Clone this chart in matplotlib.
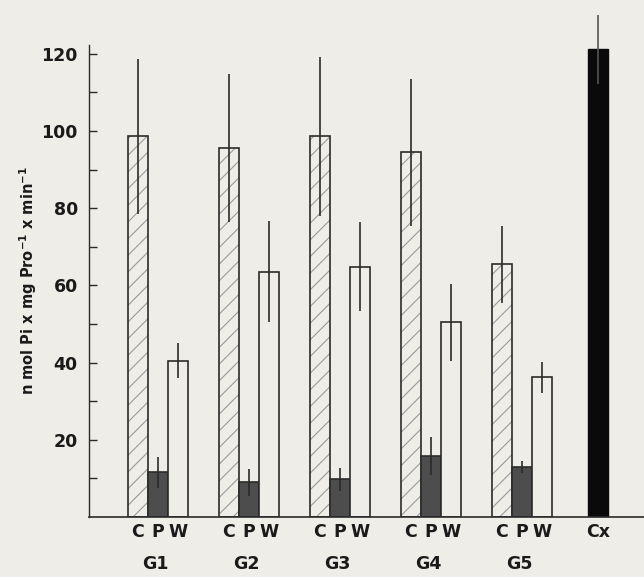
"""
Enzyme activity per fraction (C, P, W) for groups G1-G5 plus Cx control.
"""

import matplotlib
matplotlib.use("Agg")
import matplotlib.pyplot as plt
import numpy as np

PAPER = "#efede8"
INK = "#2b2b2b"
HATCH_GREY = "#9a9a9a"
P_FILL = "#4d4d4d"

groups = ["G1", "G2", "G3", "G4", "G5"]
fractions = ["C", "P", "W"]

c_vals = [98.6, 95.6, 98.6, 94.5, 65.5]
c_err = [20.0, 19.2, 20.5, 19.0, 10.0]
p_vals = [11.6, 9.0, 9.8, 15.8, 12.9]
p_err = [4.0, 3.5, 3.0, 4.8, 1.5]
w_vals = [40.5, 63.6, 64.9, 50.5, 36.2]
w_err = [4.5, 13.0, 11.5, 10.0, 4.0]
cx_val = 121.2
cx_err = 9.0

plt.rcParams["font.family"] = ["DejaVu Sans"]
plt.rcParams["hatch.linewidth"] = 0.8

fig = plt.figure(figsize=(6.44, 5.77), dpi=100, facecolor=PAPER)
ax = fig.add_axes([0.138, 0.104, 0.862, 0.818])
ax.set_facecolor(PAPER)

step = 4.55
starts = np.arange(len(groups)) * step
xc = starts + 0.5
xp = starts + 1.5
xw = starts + 2.5
x_cx = 23.5

# C: hatched fill, then dark outline on top
ax.bar(xc, c_vals, width=1.0, color=PAPER, edgecolor=HATCH_GREY, hatch="//", linewidth=0)
ax.bar(xc, c_vals, width=1.0, fill=False, edgecolor=INK, linewidth=1.2)
ax.bar(xp, p_vals, width=1.0, color=P_FILL, edgecolor=INK, linewidth=1.2)
ax.bar(xw, w_vals, width=1.0, color=PAPER, edgecolor=INK, linewidth=1.2)
ax.bar([x_cx], [cx_val], width=1.0, color="#0a0a0a", edgecolor="#0a0a0a", linewidth=1.0)

for xs, vs, es in [(xc, c_vals, c_err), (xp, p_vals, p_err), (xw, w_vals, w_err)]:
    ax.errorbar(xs, vs, yerr=es, fmt="none", ecolor=INK, elinewidth=1.2, capsize=0)
ax.errorbar([x_cx], [cx_val], yerr=[cx_err], fmt="none", ecolor="#555555",
            elinewidth=1.2, capsize=0, clip_on=False)

ax.set_xlim(-1.95, 25.8)
ax.set_ylim(0, 122.3)

for s in ["top", "right"]:
    ax.spines[s].set_visible(False)
ax.spines["left"].set_color(INK)
ax.spines["bottom"].set_color(INK)
ax.spines["left"].set_linewidth(1.0)
ax.spines["bottom"].set_linewidth(1.2)

ax.set_yticks([20, 40, 60, 80, 100, 120])
ax.set_yticks(np.arange(10, 120, 20), minor=True)
ax.tick_params(axis="y", which="both", direction="in", length=6, width=1.0,
               color=INK, pad=8, labelsize=12.5, labelcolor="#1a1a1a")
for lbl in ax.get_yticklabels():
    lbl.set_fontweight("bold")

xt = list(np.ravel(np.column_stack([xc, xp, xw]))) + [x_cx]
xl = fractions * len(groups) + ["Cx"]
ax.set_xticks(xt)
ax.set_xticklabels(xl, fontsize=12.5, fontweight="bold", color="#1a1a1a")
ax.tick_params(axis="x", length=0, pad=4)

for x, g in zip(xp, groups):
    ax.text(x - 0.15, -0.1, g, transform=ax.get_xaxis_transform(),
            ha="center", va="center", fontsize=12.5, fontweight="bold", color="#1a1a1a")

ax.set_ylabel("n mol Pi x mg Pro$^{\\mathbf{-1}}$ x min$^{\\mathbf{-1}}$",
              fontsize=10.5, fontweight="bold", color="#1a1a1a", labelpad=2)

fig.savefig("out.png", dpi=100, facecolor=fig.get_facecolor())
